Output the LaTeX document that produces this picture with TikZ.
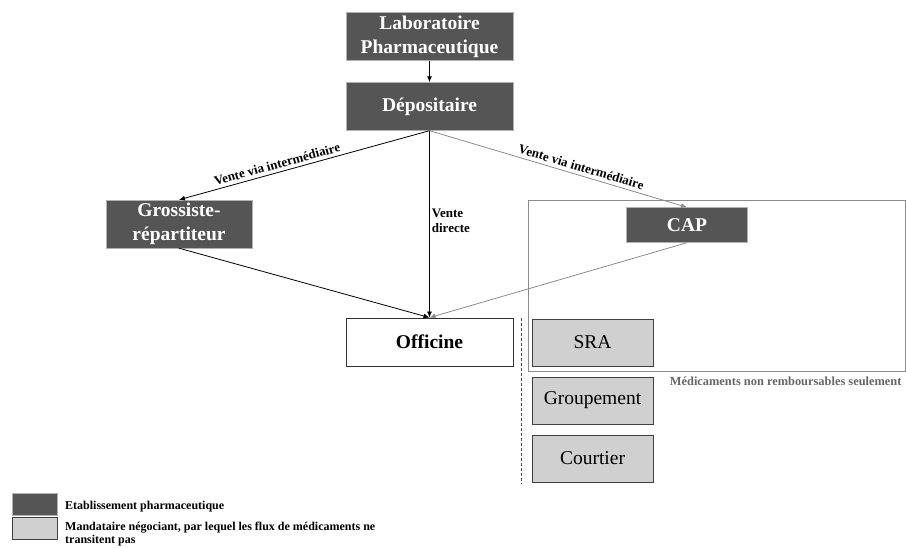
\documentclass[tikz,border=0pt]{standalone}
\usepackage{fontspec}
\setmainfont{Liberation Serif}
\usetikzlibrary{arrows.meta}
\definecolor{darkbox}{HTML}{555555}
\definecolor{lightbox}{HTML}{D0D0D0}
\definecolor{lightline}{HTML}{8C8C8C}

\begin{document}
\begin{tikzpicture}[x=1pt, y=-1pt,
  acteur/.style={fill=darkbox, draw=gray!60, text=white, inner sep=0pt,
    font=\fontsize{19.5}{24}\selectfont\bfseries, align=center},
  mandat/.style={fill=lightbox, draw=black!75, inner sep=0pt,
    minimum width=121pt, minimum height=47pt, font=\fontsize{19.5}{24}\selectfont},
  flux/.style={-{Latex[length=6pt,width=5pt]}, line width=0.8pt},
  fluxgris/.style={flux, draw=lightline},
  etiq/.style={font=\fontsize{13}{15}\selectfont\bfseries}]
  \useasboundingbox (0,0) rectangle (906,548);

  % zone of the CAP
  \draw[lightline, line width=0.8pt] (528,200) rectangle (905,371);
  \node[anchor=east, text=black!60, font=\fontsize{12.4}{14}\selectfont\bfseries] (note) at (905,381.5) {Médicaments non remboursables seulement};
  \draw[densely dashed, line width=0.8pt, black!70] (521.5,318) -- (521.5,484);

  % actors
  \node[acteur, minimum width=167pt, minimum height=48pt] (labo) at (429.5,36.5) {Laboratoire\\Pharmaceutique};
  \node[acteur, minimum width=167pt, minimum height=48pt] (depot) at (429.5,106.5) {Dépositaire};
  \node[acteur, minimum width=146pt, minimum height=48pt] (gros) at (179,224) {Grossiste-\\répartiteur};
  \node[acteur, minimum width=121pt, minimum height=35pt] (cap) at (687,225) {CAP};
  \node[draw=black!80, line width=0.8pt, minimum width=167pt, minimum height=48pt, inner sep=0pt,
    font=\fontsize{19.5}{24}\selectfont\bfseries] (offi) at (429.5,342) {Officine};
  \node[mandat] (sra) at (592.5,342.5) {SRA};
  \node[mandat] (grp) at (592.5,400.5) {Groupement};
  \node[mandat] (crt) at (592.5,458.5) {Courtier};

  % flows
  \draw[flux] (labo) -- (depot);
  \draw[flux] (depot.south) -- node[etiq, sloped, above, pos=0.6] {Vente via intermédiaire} (gros.north);
  \draw[fluxgris] (depot.south) -- node[etiq, sloped, above, pos=0.58, text=black] {Vente via intermédiaire} (cap.north);
  \draw[flux] (depot.south) -- node[etiq, right, align=left, pos=0.48, inner sep=2pt] {Vente\\directe} (offi.north);
  \draw[flux] (gros.south) -- (offi.north);
  \draw[fluxgris] (cap.south) -- (offi.north);

  % legend
  \node[fill=darkbox, draw=gray!60, minimum width=45pt, minimum height=22pt, inner sep=0pt] (legA) at (34.5,504) {};
  \node[fill=lightbox, draw=black!75, minimum width=45pt, minimum height=22pt, inner sep=0pt] (legB) at (34.5,528) {};
  \node[anchor=west, font=\fontsize{12}{13}\selectfont\bfseries, inner sep=0pt] (txtA) at (65,506.5) {Etablissement pharmaceutique};
  \node[anchor=west, align=left, font=\fontsize{12}{13}\selectfont\bfseries, inner sep=0pt] (txtB) at (65,534.5) {Mandataire négociant, par lequel les flux de médicaments ne\\transitent pas};
\end{tikzpicture}
\end{document}
